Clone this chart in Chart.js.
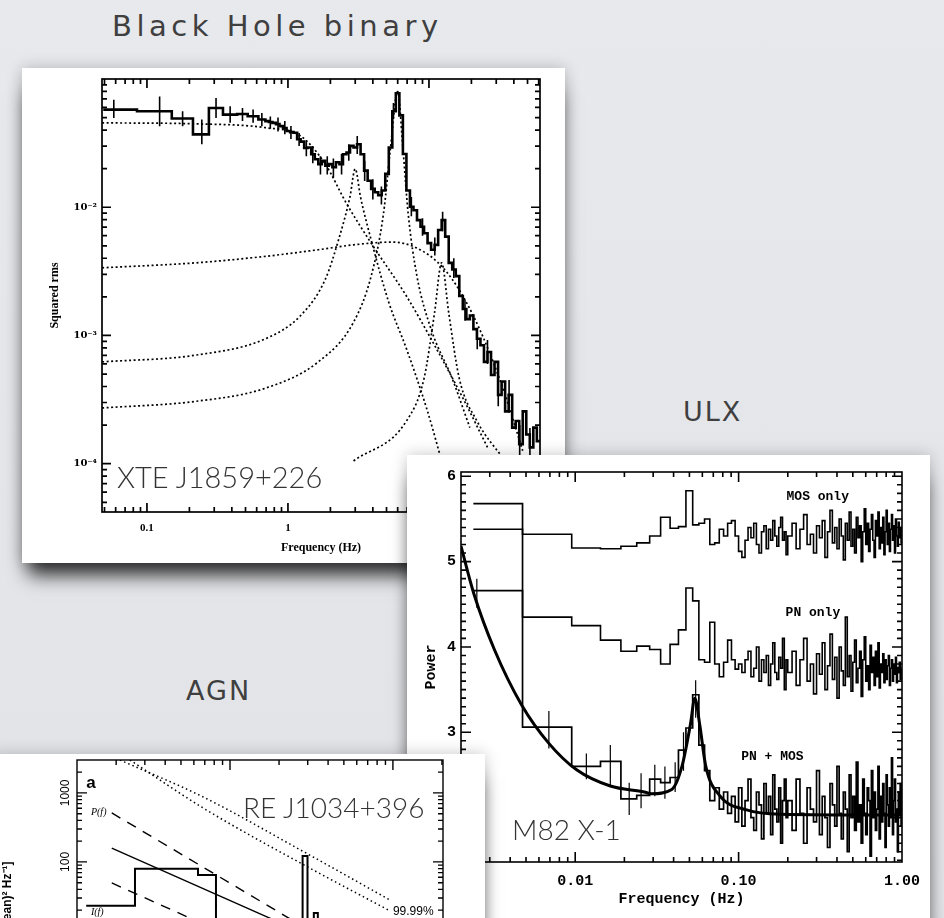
<!DOCTYPE html>
<html>
<head>
<meta charset="utf-8">
<script src="https://cdn.jsdelivr.net/npm/chart.js@4.4.1/dist/chart.umd.min.js"></script>
<style>
  html, body { margin: 0; padding: 0; width: 944px; height: 918px; overflow: hidden; }
  body { position: relative; background: linear-gradient(180deg, #e8e9ed 0%, #e2e3e7 100%); }
  .title { position: absolute; font-family: 'DejaVu Sans', sans-serif; font-size: 27px; line-height: 27px; letter-spacing: 2px; color: #3f3f3f; white-space: nowrap; }
  .panel { position: absolute; background: #fff; box-shadow: 0 18px 18px -6px rgba(0,0,0,0.8), 0 0 15px rgba(0,0,0,0.22); }
  .panel canvas { position: absolute; left: 0; top: 0; }
  .tag { position: absolute; font-family: 'Lato', sans-serif; font-weight: 300; font-size: 28px; line-height: 28px; color: #333; white-space: nowrap; }
</style>
</head>
<body>

<div class="title" style="left:112px; top:12px; font-size:29px; line-height:29px; letter-spacing:4.5px;">Black Hole binary</div>
<div class="title" style="left:683px; top:398px;">ULX</div>
<div class="title" style="left:186px; top:677px;">AGN</div>

<div class="panel" style="left:22px; top:68px; width:543px; height:495px; z-index:1;">
  <canvas id="bhbChart" width="543" height="495"></canvas>
  <div class="tag" style="left:95px; top:394px; font-size:29px; line-height:29px;">XTE J1859+226</div>
</div>

<div class="panel" style="left:407px; top:455px; width:523px; height:480px; z-index:2;">
  <canvas id="ulxChart" width="523" height="480"></canvas>
  <div class="tag" style="left:105px; top:360px;">M82 X-1</div>
</div>

<div class="panel" style="left:-10px; top:754px; width:495px; height:400px; z-index:3;">
  <canvas id="agnChart" width="495" height="400"></canvas>
  <div class="tag" style="left:253px; top:39px;">RE J1034+396</div>
</div>

<script>
// ---------- Black hole binary: XTE J1859+226 ----------
const bhbLowEdges = [0.049, 0.085, 0.150, 0.212, 0.275, 0.346, 0.436, 0.518, 0.617, 0.692];
const bhbLowPower = [0.0577, 0.056, 0.0492, 0.037, 0.0594, 0.0527, 0.0534, 0.0512, 0.0483];
const bhbDenseStart = 0.692;   // Hz, log bins of 0.025 dex from here on
const bhbDenseStep = 0.025;
const bhbDensePower = [
  0.0469, 0.0462, 0.0455, 0.0445, 0.0429, 0.0415, 0.0393, 0.0385, 0.0381, 0.0339,
  0.0325, 0.0290, 0.0292, 0.0259, 0.0237, 0.0217, 0.0230, 0.0211, 0.0217, 0.0205,
  0.0224, 0.0217, 0.0259, 0.0267, 0.0301, 0.0292, 0.0310, 0.0259, 0.0193, 0.0161,
  0.0139, 0.0131, 0.0124, 0.0135, 0.0182, 0.0292, 0.0560, 0.0774, 0.0520, 0.0260,
  0.0135, 0.0101, 0.00948, 0.00794, 0.00705, 0.00627, 0.00525, 0.00466, 0.00509, 0.00665,
  0.00794, 0.00590, 0.00368, 0.00327, 0.00290, 0.00203, 0.00161, 0.00134, 0.00143, 0.00112,
  0.000942, 0.000838, 0.000622, 0.000743, 0.000491, 0.000622, 0.000344, 0.000437, 0.000256, 0.000344,
  0.000191, 0.000215, 0.000142, 0.000256, 0.000169, 0.000134, 0.000191, 0.000150
];
const bhbErrors = [
  [0.0582, 0.0497, 0.0689], [0.123, 0.0429, 0.0731], [0.179, 0.0429, 0.056],
  [0.245, 0.031, 0.0483], [0.309, 0.0497, 0.071], [0.389, 0.0455, 0.0612],
  [0.476, 0.047, 0.0594], [0.566, 0.0455, 0.0577], [0.653, 0.0429, 0.0543],
  [0.75, 0.041, 0.051], [0.85, 0.039, 0.050], [0.95, 0.037, 0.047], [1.05, 0.034, 0.043],
  [1.2, 0.030, 0.038], [1.35, 0.025, 0.033], [1.5, 0.022, 0.030], [1.7, 0.018, 0.025],
  [1.9, 0.018, 0.025], [2.1, 0.017, 0.024], [2.4, 0.018, 0.026], [2.7, 0.023, 0.031],
  [3.1, 0.026, 0.036], [3.5, 0.016, 0.023], [4.0, 0.0115, 0.0165], [4.6, 0.0105, 0.0145],
  [5.6, 0.050, 0.065], [7.5, 0.0085, 0.012], [9.0, 0.0060, 0.0082], [11.0, 0.0042, 0.0058],
  [12.5, 0.0065, 0.0092], [15.0, 0.0028, 0.0040], [18.0, 0.0013, 0.0019], [22.0, 0.00078, 0.0011],
  [26.0, 0.00060, 0.00092], [31.0, 0.00028, 0.00044], [37.0, 0.00025, 0.00045], [44.0, 0.0001, 0.0002],
  [52.0, 0.0001, 0.00019]
];
const bhbBroad = [[0.0481, 0.0455], [0.219, 0.0447], [0.692, 0.0417], [1.23, 0.0359], [1.84, 0.0217], [2.60, 0.0107], [3.89, 0.00525], [6.92, 0.00203], [10.96, 0.000838], [17.4, 0.000325], [26.0, 0.000134]];
const bhbQpo3 = [[0.0481, 0.000622], [0.219, 0.000701], [0.692, 0.000942], [1.23, 0.00143], [1.84, 0.00274], [2.32, 0.0059], [2.75, 0.0120], [3.0, 0.0199], [3.27, 0.0120], [3.89, 0.00557], [5.19, 0.00181], [6.92, 0.000789], [9.77, 0.000256], [12.3, 0.000105]];
const bhbBump = [[0.0481, 0.00337], [0.219, 0.00368], [0.692, 0.00414], [1.64, 0.00466], [2.92, 0.00509], [5.50, 0.00535], [8.22, 0.0048], [12.3, 0.00347], [17.4, 0.00203], [24.5, 0.000942], [34.7, 0.000344], [46.2, 0.000126]];
const bhbQpo6 = [[0.0481, 0.000272], [0.219, 0.000306], [0.692, 0.000388], [1.64, 0.000622], [2.92, 0.00127], [3.89, 0.0029], [4.76, 0.00893], [5.34, 0.0292], [6.0, 0.0798], [6.53, 0.0292], [7.12, 0.00893], [8.22, 0.0029], [10.35, 0.00112], [14.6, 0.000463], [19.5, 0.000191]];
const bhbQpo12 = [[2.92, 0.000105], [6.92, 0.000215], [9.23, 0.000463], [10.96, 0.00151], [12.3, 0.00368], [13.8, 0.00151], [16.4, 0.000463], [21.9, 0.000215], [34.7, 0.000105]];
const bhbXTicks = [0.1, 1, 10];
const bhbYTicks = [1e-4, 1e-3, 1e-2];
const bhbYLabels = ['10⁻⁴', '10⁻³', '10⁻²'];

// ---------- ULX: M82 X-1 ----------
const ulxFirstEdge = 0.00238;
const ulxFineWidth = 0.00476;   // 42 bins up to 0.2 Hz
const ulxCoarseWidth = 0.0125;  // 64 bins from 0.2 to 1 Hz
const mosFine = [
  5.38, 5.32, 5.16, 5.15, 5.18, 5.22, 5.30, 5.52, 5.39, 5.41,
  5.83, 5.43, 5.45, 5.50, 5.20, 5.22, 5.38, 5.30, 5.45, 5.48,
  5.30, 5.12, 5.05, 5.25, 5.40, 5.28, 5.45, 5.20, 5.10, 5.35,
  5.42, 5.15, 5.38, 5.25, 5.48, 5.30, 5.18, 5.40, 5.52, 5.25,
  5.35, 5.08
];
const mosCoarse = [
  5.30, 5.45, 5.15, 5.38, 5.55, 5.20, 5.32, 5.10, 5.42, 5.28,
  5.48, 5.05, 5.35, 5.60, 5.22, 5.40, 5.15, 5.50, 5.30, 5.02,
  5.45, 5.25, 5.58, 5.18, 5.38, 5.10, 5.52, 5.28, 5.42, 5.00,
  5.35, 5.62, 5.20, 5.45, 5.12, 5.38, 5.55, 5.25, 5.05, 5.48,
  5.30, 5.58, 5.15, 5.40, 5.22, 5.52, 5.08, 5.35, 5.60, 5.20,
  5.45, 5.12, 5.38, 5.55, 5.25, 5.42, 5.10, 5.50, 5.30, 5.18,
  5.46, 5.28, 5.40, 5.22
];
const pnFine = [
  4.66, 4.35, 4.25, 4.08, 3.95, 4.01, 3.97, 3.80, 4.03, 4.20,
  4.69, 4.54, 3.85, 3.82, 4.29, 3.80, 3.65, 3.82, 4.08, 3.85,
  3.74, 3.80, 3.70, 3.85, 3.95, 3.65, 3.75, 4.00, 3.60, 3.85,
  3.70, 3.90, 3.55, 3.80, 4.05, 3.70, 3.62, 3.88, 3.75, 4.10,
  3.50, 3.85
];
const pnCoarse = [
  3.70, 3.95, 3.55, 3.85, 4.10, 3.60, 3.80, 3.45, 3.92, 3.68,
  4.05, 3.50, 3.78, 4.15, 3.62, 3.88, 3.40, 4.00, 3.72, 3.55,
  4.35, 3.65, 3.90, 3.48, 3.82, 4.08, 3.58, 3.75, 3.95, 3.42,
  3.85, 4.12, 3.60, 3.78, 3.50, 4.02, 3.70, 3.88, 3.55, 3.95,
  3.65, 4.05, 3.52, 3.80, 3.70, 3.92, 3.58, 3.85, 3.62, 3.78,
  3.90, 3.55, 3.75, 3.85, 3.60, 3.80, 3.68, 3.88, 3.58, 3.76,
  3.70, 3.82, 3.62, 3.75
];
const pnMosFine = [
  5.68, 3.06, 2.60, 2.66, 2.22, 2.26, 2.45, 2.41, 2.47, 2.79,
  3.05, 3.44, 2.85, 2.55, 2.20, 2.35, 2.10, 2.30, 2.05, 2.25,
  1.95, 2.35, 1.90, 2.20, 2.45, 2.00, 1.85, 2.30, 2.15, 1.75,
  2.40, 2.05, 2.25, 1.80, 2.50, 2.10, 1.95, 2.35, 1.70, 2.20,
  2.45, 2.00
];
const pnMosCoarse = [
  2.20, 1.85, 2.45, 2.05, 1.70, 2.35, 2.10, 1.95, 2.55, 1.80,
  2.25, 2.00, 1.65, 2.40, 2.15, 1.90, 2.60, 2.05, 1.75, 2.30,
  2.10, 1.60, 2.50, 2.00, 2.25, 1.85, 2.65, 1.95, 2.15, 1.70,
  2.45, 2.05, 1.80, 2.35, 2.20, 1.55, 2.55, 2.00, 2.30, 1.85,
  2.10, 2.60, 1.75, 2.25, 1.95, 2.40, 2.05, 1.65, 2.50, 2.15,
  1.90, 2.35, 2.00, 2.70, 1.80, 2.20, 2.45, 1.95, 2.10, 1.60,
  2.30, 2.05, 2.40, 1.90
];
const pnMosErrors = [
  [0.0069, 2.81, 3.25], [0.0117, 2.45, 2.75], [0.0164, 2.37, 2.85], [0.0214, 2.03, 2.41],
  [0.0253, 2.11, 2.52], [0.0307, 2.25, 2.62], [0.0354, 2.22, 2.60], [0.0409, 2.30, 2.65],
  [0.046, 2.55, 3.0], [0.0546, 3.17, 3.61]
];
const pnErrors = [[0.0025, 4.46, 4.80]];
const ulxModel = [[0.002, 5.18], [0.0024, 4.62], [0.0032, 3.97], [0.0047, 3.32], [0.0069, 2.87], [0.0102, 2.56], [0.0164, 2.37], [0.0265, 2.30], [0.0292, 2.28], [0.039, 2.33], [0.045, 2.60], [0.0507, 3.09], [0.054, 3.40], [0.0578, 3.09], [0.063, 2.60], [0.0764, 2.26], [0.112, 2.09], [0.18, 2.04], [1.0, 2.03]];
const ulxXTicks = [0.01, 0.1, 1];
const ulxYTicks = [2, 3, 4, 5, 6];

// ---------- AGN: RE J1034+396 ----------
const agnEdges = [1.31e-5, 2.61e-5, 4.53e-5, 6.36e-5, 8.2e-5, 1.0e-4, 1.18e-4, 1.36e-4, 1.54e-4, 1.72e-4, 1.9e-4, 2.08e-4, 2.26e-4, 2.44e-4, 2.62e-4, 2.79e-4, 2.99e-4, 3.13e-4, 3.27e-4, 3.46e-4, 3.64e-4, 3.82e-4];
const agnPower = [23.1, 79.3, 79.3, 64.6, 6, 9, 4, 11, 5, 8, 3, 10, 6, 7, 4, 122, 5, 9, 18.2, 6, 3];
const agnUpperDotted = [[2.11e-5, 3000], [6.83e-5, 875], [2.84e-4, 140], [9.6e-4, 28]];
const agnLowerDotted = [[2.43e-5, 3000], [6.83e-5, 606], [2.84e-4, 90.6], [9.6e-4, 19.5]];
const agnUpperDashed = [[1.88e-5, 513], [2.24e-4, 15.9], [2.03e-3, 0.74]];
const agnModel = [[1.88e-5, 159], [2.04e-4, 13.1], [2.03e-3, 1.1]];
const agnLowerDashed = [[1.88e-5, 49.6], [8.2e-5, 10.4], [2.03e-3, 0.31]];
const agnYTicks = [10, 100, 1000];


// histogram points for a stepped line: one point per left edge plus the last right edge
function steps(edges, values) {
  const pts = values.map((v, i) => ({ x: edges[i], y: v }));
  pts.push({ x: edges[values.length], y: values[values.length - 1] });
  return pts;
}
function errorBars(list) {
  const pts = [];
  list.forEach(([f, lo, hi]) => pts.push({ x: f, y: lo }, { x: f, y: hi }, { x: f, y: null }));
  return pts;
}
function xy(list) {
  return list.map(([x, y]) => ({ x, y }));
}
function logTicks(e0, e1, major, minor) {
  const t = [];
  for (let e = e0; e <= e1; e++) for (let k = 1; k < 10; k++) t.push([k * Math.pow(10, e), k === 1 ? major : minor]);
  return t;
}
function linTicks(from, to, step, every, major, minor) {
  const t = [];
  for (let i = 0; from + i * step <= to + 1e-9; i++) t.push([from + i * step, i % every === 0 ? major : minor]);
  return t;
}

// frame, inward ticks on all four sides, and small in-plot notes
const frameTicks = {
  id: 'frameTicks',
  afterDatasetsDraw(chart, args, opts) {
    const { ctx, chartArea: a, scales: { x, y } } = chart;
    ctx.save();
    ctx.strokeStyle = '#000';
    ctx.lineWidth = opts.lineWidth;
    ctx.beginPath();
    opts.xTicks.forEach(([v, len]) => {
      const p = x.getPixelForValue(v);
      if (p <= a.left + 1 || p >= a.right - 1) return;
      ctx.moveTo(p, a.bottom); ctx.lineTo(p, a.bottom - len);
      ctx.moveTo(p, a.top); ctx.lineTo(p, a.top + len);
    });
    opts.yTicks.forEach(([v, len]) => {
      const p = y.getPixelForValue(v);
      if (p <= a.top + 1 || p >= a.bottom - 1) return;
      ctx.moveTo(a.left, p); ctx.lineTo(a.left + len, p);
      ctx.moveTo(a.right, p); ctx.lineTo(a.right - len, p);
    });
    ctx.stroke();
    ctx.strokeRect(a.left, a.top, a.width, a.height);
    ctx.fillStyle = '#000';
    ctx.textBaseline = 'middle';
    (opts.notes || []).forEach(n => {
      ctx.save();
      ctx.font = n.font;
      ctx.textAlign = n.align || 'center';
      const px = n.px != null ? n.px : x.getPixelForValue(n.x);
      const py = y.getPixelForValue(n.y);
      ctx.translate(px, py);
      if (n.rotate) ctx.rotate(n.rotate);
      ctx.fillText(n.text, 0, 0);
      ctx.restore();
    });
    ctx.restore();
  }
};

const baseOptions = {
  responsive: false,
  animation: false,
  events: [],
  plugins: { legend: { display: false }, tooltip: { enabled: false } }
};

function lineSet(data, extra) {
  return Object.assign({ data, borderColor: '#000', borderWidth: 1.5, pointRadius: 0, fill: false, clip: 0 }, extra);
}
const dotted = { borderWidth: 1.7, borderDash: [2, 2.5], cubicInterpolationMode: 'monotone' };


// ---------- chart 1 ----------
const bhbEdges = bhbLowEdges.slice();
for (let k = 1; k <= bhbDensePower.length; k++) bhbEdges.push(bhbDenseStart * Math.pow(10, bhbDenseStep * k));
const bhbPower = bhbLowPower.concat(bhbDensePower);

const serifBold = (size) => ({ family: "'Liberation Serif', serif", weight: 'bold', size });

new Chart(document.getElementById('bhbChart').getContext('2d'), {
  type: 'line',
  data: {
    datasets: [
      lineSet(xy(bhbBroad), dotted),
      lineSet(xy(bhbQpo3), dotted),
      lineSet(xy(bhbBump), dotted),
      lineSet(xy(bhbQpo6), dotted),
      lineSet(xy(bhbQpo12), dotted),
      lineSet(errorBars(bhbErrors), { borderWidth: 1.6, spanGaps: false }),
      lineSet(steps(bhbEdges, bhbPower), { stepped: 'before', borderWidth: 2.6 })
    ]
  },
  options: Object.assign({}, baseOptions, {
    layout: { padding: { left: 0, top: 5, right: 25, bottom: 0 } },
    plugins: Object.assign({}, baseOptions.plugins, {
      frameTicks: { lineWidth: 1.7, xTicks: logTicks(-2, 1, 9, 5), yTicks: logTicks(-5, -1, 9, 5) }
    }),
    scales: {
      x: {
        type: 'logarithmic', min: 0.048, max: 61.3,
        border: { display: false }, grid: { display: false, drawTicks: false },
        afterBuildTicks: s => { s.ticks = bhbXTicks.map(v => ({ value: v })); },
        afterFit: s => { s.height = 51; },
        ticks: { padding: 10, color: '#000', autoSkip: false, maxRotation: 0, font: serifBold(11), callback: v => String(v) },
        title: { display: true, text: 'Frequency (Hz)', color: '#000', font: serifBold(12), padding: { top: 0, bottom: 8 } }
      },
      y: {
        type: 'logarithmic', min: 4.2e-5, max: 0.1,
        border: { display: false }, grid: { display: false, drawTicks: false },
        afterBuildTicks: s => { s.ticks = bhbYTicks.map(v => ({ value: v })); },
        afterFit: s => { s.width = 80; },
        ticks: { padding: 5, color: '#000', autoSkip: false, font: { family: "'DejaVu Serif', serif", weight: 'bold', size: 10 }, callback: (v, i) => bhbYLabels[i] },
        title: { display: true, text: 'Squared rms', color: '#000', font: serifBold(12), padding: { top: 26, bottom: 0 } }
      }
    }
  }),
  plugins: [frameTicks]
});


// ---------- chart 2 ----------
const ulxEdges = [ulxFirstEdge];
for (let k = 1; k <= mosFine.length; k++) ulxEdges.push(k * ulxFineWidth);
const coarseStart = ulxEdges[ulxEdges.length - 1];
for (let k = 1; k <= mosCoarse.length; k++) ulxEdges.push(coarseStart + k * ulxCoarseWidth);

const monoBold = (size) => ({ family: "'Liberation Mono', monospace", weight: 'bold', size });

new Chart(document.getElementById('ulxChart').getContext('2d'), {
  type: 'line',
  data: {
    datasets: [
      lineSet(steps(ulxEdges, mosFine.concat(mosCoarse)), { stepped: 'before', borderWidth: 1.6 }),
      lineSet(steps(ulxEdges, pnFine.concat(pnCoarse)), { stepped: 'before', borderWidth: 1.6 }),
      lineSet(steps(ulxEdges, pnMosFine.concat(pnMosCoarse)), { stepped: 'before', borderWidth: 1.7 }),
      lineSet(errorBars(pnMosErrors.concat(pnErrors)), { borderWidth: 1.2, spanGaps: false }),
      lineSet(xy(ulxModel), { borderWidth: 3, cubicInterpolationMode: 'monotone' })
    ]
  },
  options: Object.assign({}, baseOptions, {
    layout: { padding: { left: 0, top: 17, right: 26, bottom: 0 } },
    plugins: Object.assign({}, baseOptions.plugins, {
      frameTicks: {
        lineWidth: 1.6,
        xTicks: logTicks(-3, 0, 10, 5),
        yTicks: linTicks(1, 7, 0.1, 10, 10, 5),
        notes: [
          { text: 'MOS only', x: 0.305, y: 5.76, font: "bold 13px 'Liberation Mono'" },
          { text: 'PN only', x: 0.285, y: 4.40, font: "bold 13px 'Liberation Mono'" },
          { text: 'PN + MOS', x: 0.161, y: 2.71, font: "bold 13px 'Liberation Mono'" }
        ]
      }
    }),
    scales: {
      x: {
        type: 'logarithmic', min: 0.002, max: 1.0,
        border: { display: false }, grid: { display: false, drawTicks: false },
        afterBuildTicks: s => { s.ticks = ulxXTicks.map(v => ({ value: v })); },
        afterFit: s => { s.height = 73; },
        ticks: { padding: 10, color: '#000', autoSkip: false, maxRotation: 0, font: monoBold(15), callback: v => v.toFixed(2) },
        title: { display: true, text: 'Frequency (Hz)', color: '#000', font: monoBold(15), padding: { top: 0, bottom: 27 } }
      },
      y: {
        type: 'linear', min: 1.48, max: 6.05,
        border: { display: false }, grid: { display: false, drawTicks: false },
        afterBuildTicks: s => { s.ticks = ulxYTicks.map(v => ({ value: v })); },
        afterFit: s => { s.width = 54; },
        ticks: { padding: 5, color: '#000', autoSkip: false, font: monoBold(15), callback: v => String(v) },
        title: { display: true, text: 'Power', color: '#000', font: monoBold(15), padding: { top: 15, bottom: 0 } }
      }
    }
  }),
  plugins: [frameTicks]
});


// ---------- chart 3 ----------
new Chart(document.getElementById('agnChart').getContext('2d'), {
  type: 'line',
  data: {
    datasets: [
      lineSet(xy(agnUpperDotted), { borderWidth: 1.5, borderDash: [1.5, 3], cubicInterpolationMode: 'monotone' }),
      lineSet(xy(agnLowerDotted), { borderWidth: 1.5, borderDash: [1.5, 3], cubicInterpolationMode: 'monotone' }),
      lineSet(xy(agnUpperDashed), { borderWidth: 1.4, borderDash: [10, 8] }),
      lineSet(xy(agnModel), { borderWidth: 1.4 }),
      lineSet(xy(agnLowerDashed), { borderWidth: 1.4, borderDash: [10, 8] }),
      lineSet(steps(agnEdges, agnPower), { stepped: 'before', borderWidth: 2 })
    ]
  },
  options: Object.assign({}, baseOptions, {
    layout: { padding: { left: 0, top: 6, right: 42, bottom: 0 } },
    plugins: Object.assign({}, baseOptions.plugins, {
      frameTicks: {
        lineWidth: 1.4,
        xTicks: logTicks(-5, -3, 10, 5),
        yTicks: logTicks(-2, 3, 10, 5),
        notes: [
          { text: 'a', x: 1.31e-5, y: 1396, align: 'left', font: "bold 17px 'Liberation Sans'" },
          { text: 'P(f)', x: 1.4e-5, y: 530, align: 'left', font: "italic 10px 'Liberation Serif'" },
          { text: 'I(f)', x: 1.4e-5, y: 18.8, align: 'left', font: "italic 10px 'Liberation Serif'" },
          { text: '99.99%', x: 1.0e-3, y: 18.8, align: 'left', font: "12px 'Liberation Sans'" },
          ...agnYTicks.map(v => ({ text: String(v), px: 76, y: v, rotate: -Math.PI / 2, font: "12px 'Liberation Sans'" })),
          { text: 'Power [(rms/mean)² Hz⁻¹]', px: 18, y: 9.49, rotate: -Math.PI / 2, font: "bold 12px 'Liberation Sans'" }
        ]
      }
    }),
    scales: {
      x: {
        type: 'logarithmic', min: 1.15e-5, max: 2.03e-3,
        border: { display: false }, grid: { display: false, drawTicks: false },
        afterFit: s => { s.height = 49; },
        ticks: { display: false }
      },
      y: {
        type: 'logarithmic', min: 0.03, max: 3000,
        border: { display: false }, grid: { display: false, drawTicks: false },
        afterFit: s => { s.width = 87; },
        ticks: { display: false }
      }
    }
  }),
  plugins: [frameTicks]
});
</script>
</body>
</html>
